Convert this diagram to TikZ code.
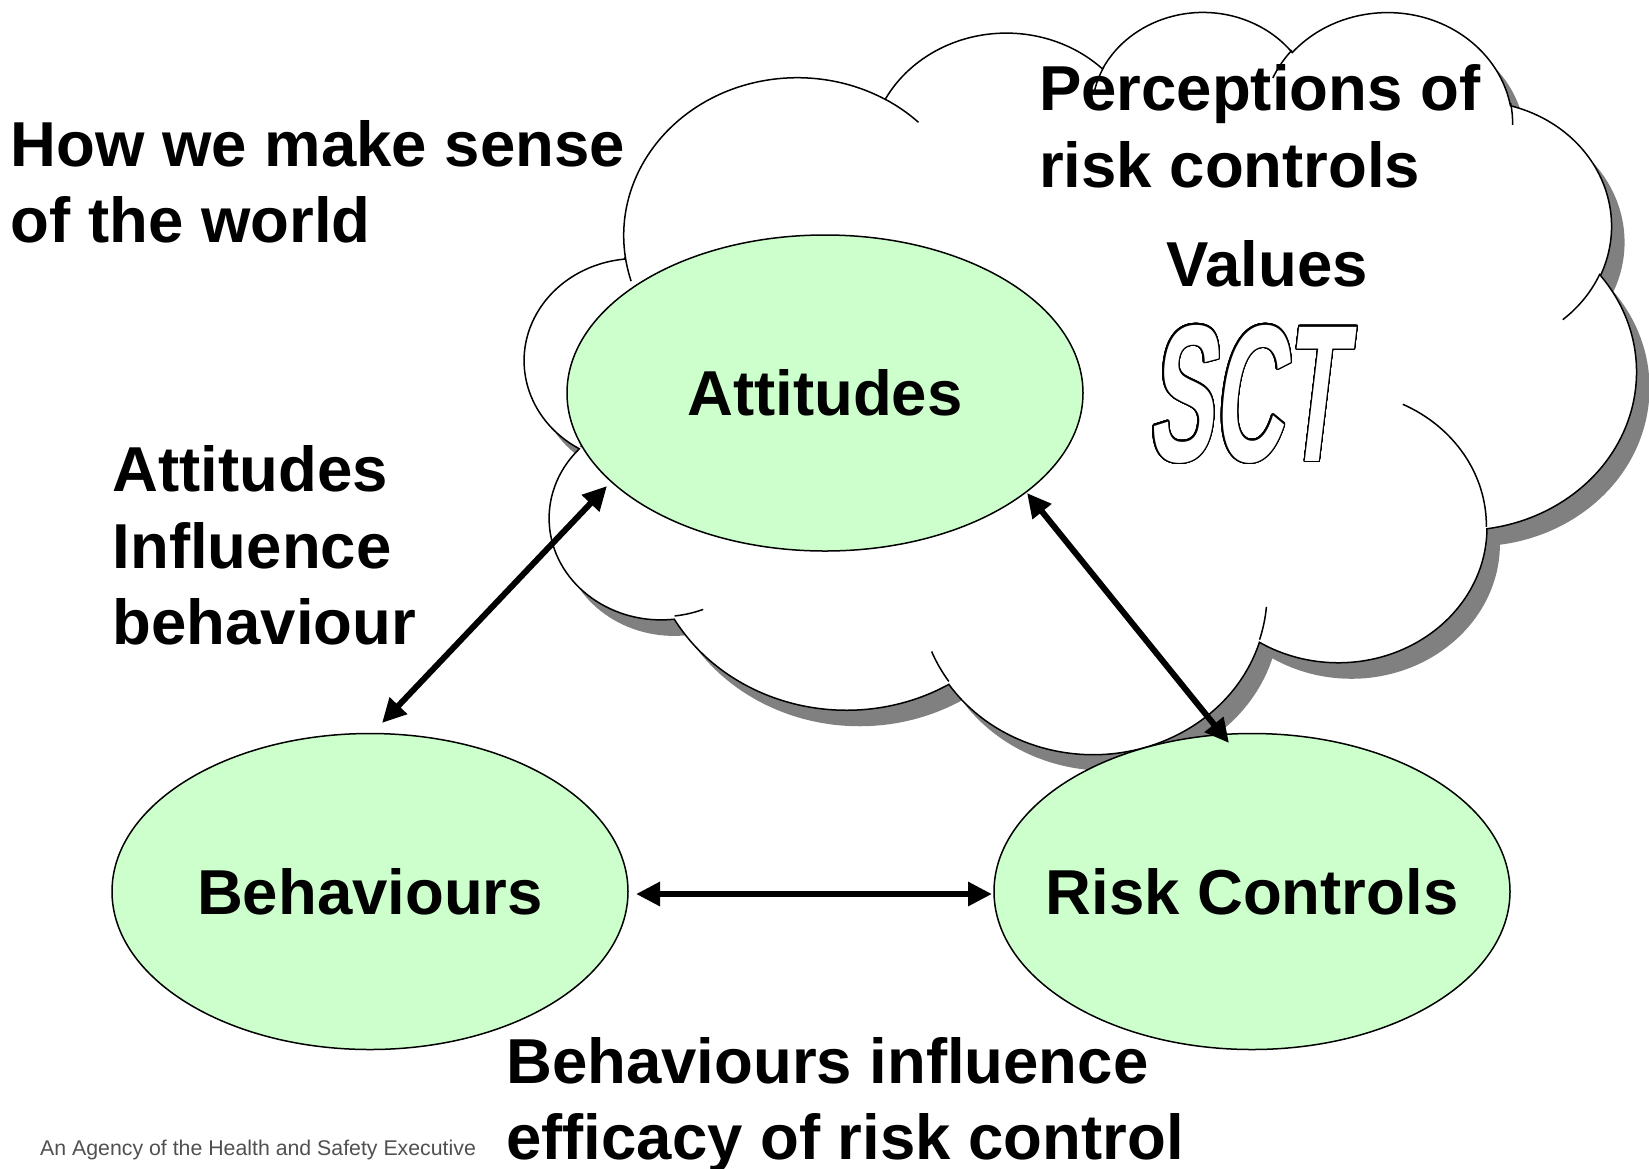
\documentclass[tikz,border=0pt]{standalone}
\usepackage{fontspec}
\setmainfont{Liberation Sans}
\newfontfamily\sctfont[FakeStretch=0.5,FakeSlant=0.12]{Liberation Sans}
\usepackage[copies]{contour}
\contournumber{48}
\contourlength{1.3pt}
\usetikzlibrary{arrows.meta,shapes.geometric}
\definecolor{ellgreen}{HTML}{CCFFCC}
\definecolor{shadowgray}{HTML}{808080}
\definecolor{footgray}{HTML}{505050}
% OOXML-style arc: wR, hR, start angle, sweep angle (visual angles)
\newcommand\cloudarc[4]{\pgfextra{%
  \pgfmathsetmacro\cta{atan2(#1*sin(#3),#2*cos(#3))}%
  \pgfmathsetmacro\ctb{atan2(#1*sin(#3+#4),#2*cos(#3+#4))}%
  \pgfmathsetmacro\ctd{mod(\ctb-(\cta)+720,360)}%
} arc[start angle=\cta, delta angle=\ctd, x radius=#1, y radius=#2]}
\newcommand\cloudoutline{(390,1437)
  \cloudarc{675.3}{919.0}{-190.4875}{123.7805}
  \cloudarc{533.3}{726.7}{-144.1024}{89.9452}
  \cloudarc{436.5}{594.5}{-145.8079}{99.7230}
  \cloudarc{485.7}{659.5}{-130.9861}{117.2417}
  \cloudarc{533.3}{727.3}{-78.7089}{109.0269}
  \cloudarc{677.5}{922.0}{-46.2673}{130.2690}
  \cloudarc{578.5}{786.7}{0.6250}{114.0333}
  \cloudarc{675.2}{921.5}{22.4516}{115.1726}
  \cloudarc{772.0}{1054.3}{66.2426}{75.7110}
  \cloudarc{436.0}{591.8}{-274.9421}{146.7356}
  \cloudarc{434.5}{594.5}{-246.8285}{152.5189} -- cycle}
\tikzset{
  bigtext/.style={font=\bfseries\fontsize{63.5}{76}\selectfont, inner sep=0pt, anchor=base west},
  oval/.style={ellipse, draw=black, line width=1.5pt, fill=ellgreen, minimum width=516pt, minimum height=316pt, inner sep=0pt, font=\bfseries\fontsize{63.5}{76}\selectfont},
  twoway/.style={line width=6pt, {Triangle[length=24pt,width=23pt]}-{Triangle[length=24pt,width=23pt]}},
  cloudline/.style={draw=black, line width=1.5pt},
}
\begin{document}
\begin{tikzpicture}[x=1pt,y=-1pt]
\useasboundingbox (0,0) rectangle (1649,1168);
% cloud shadow
\begin{scope}[xshift=538pt, yshift=-26pt, x=0.25718pt, y=-0.17176pt]
  \fill[shadowgray] \cloudoutline;
\end{scope}
% cloud
\begin{scope}[xshift=525pt, yshift=-10pt, x=0.25718pt, y=-0.17176pt]
  \filldraw[fill=white, cloudline] \cloudoutline;
  \draw[cloudline] (469.3,2617.7) \cloudarc{434.5}{594.5}{86.7420}{26.4295};
  \draw[cloudline] (692.8,3489.9) \cloudarc{436.0}{591.8}{73.6105}{11.4475};
  \draw[cloudline] (1647.8,3909.0) \cloudarc{675.2}{921.5}{137.6242}{14.0811};
  \draw[cloudline] (2882.7,3475.1) \cloudarc{675.2}{921.5}{6.4533}{15.9984};
  \draw[cloudline] (3412.9,2295.4) \cloudarc{578.5}{786.7}{-70.2924}{70.9174};
  \draw[cloudline] (4179.8,1535.4) \cloudarc{533.3}{727.3}{30.3180}{27.7515};
  \draw[cloudline] (3832.4,542.6) \cloudarc{485.7}{659.5}{-13.7443}{14.8589};
  \draw[cloudline] (2907.8,395.2) \cloudarc{485.7}{659.5}{-149.1815}{18.1954};
  \draw[cloudline] (2214.1,472.0) \cloudarc{436.5}{594.5}{-163.4943}{17.6864};
  \draw[cloudline] (1400.0,519.2) \cloudarc{675.3}{919.0}{-66.7070}{12.3194};
  \draw[cloudline] (412.7,1578.9) \cloudarc{675.3}{919.0}{157.6544}{11.8582};
\end{scope}
% texts in cloud
\node[bigtext] (perc1) at (1039,110.5) {Perceptions of};
\node[bigtext] (perc2) at (1039,187) {risk controls};
\node[bigtext, anchor=base] (values) at (1267,286) {Values};
\node[inner sep=0pt, anchor=base west, font=\sctfont\bfseries\fontsize{195}{200}\selectfont] (sct) at (1147,461)
  {\contour{black}{\textcolor{white}{SCT}}};
% ellipses
\node[oval] (att) at (825,393) {\makebox[0pt]{Attitudes}};
\node[oval] (beh) at (370,891.5) {\makebox[0pt]{Behaviours}};
\node[oval] (risk) at (1252,891.5) {\makebox[0pt]{Risk Controls}};
% arrows
\coordinate (h1) at (636,894);
\coordinate (h2) at (992,894);
\coordinate (l1) at (382,723);
\coordinate (l2) at (607,486);
\coordinate (r1) at (1027,493);
\coordinate (r2) at (1229,743);
\draw[twoway] (h1) -- (h2);
\draw[twoway] (l1) -- (l2);
\draw[twoway] (r1) -- (r2);
% other texts
\node[bigtext] (how1) at (10.5,166) {How we make sense};
\node[bigtext] (how2) at (10.5,242) {of the world};
\node[bigtext] (ai1) at (112.5,491) {Attitudes};
\node[bigtext] (ai2) at (112.5,568) {Influence};
\node[bigtext] (ai3) at (112.5,644) {behaviour};
\node[bigtext] (bi1) at (506,1083) {Behaviours influence};
\node[bigtext] (bi2) at (506,1159) {efficacy of risk control};
\node[inner sep=0pt, anchor=base west, text=footgray, font=\fontsize{21.3}{25}\selectfont] (foot) at (40,1155) {An Agency of the Health and Safety Executive};
\end{tikzpicture}
\end{document}
